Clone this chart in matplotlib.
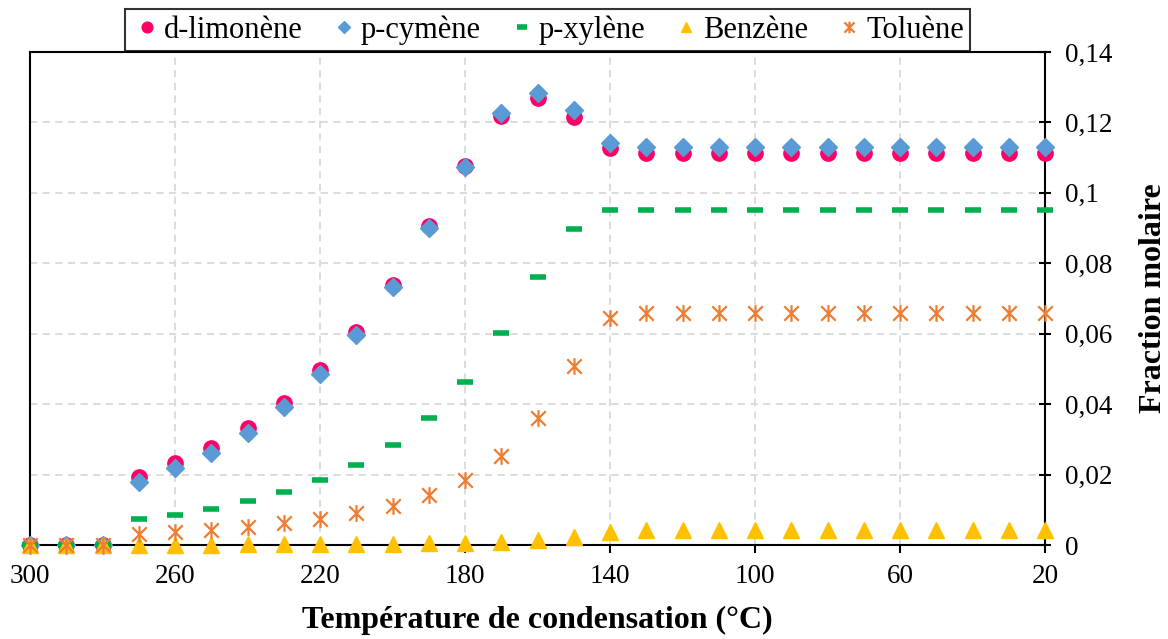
import matplotlib
matplotlib.use("Agg")
import matplotlib.pyplot as plt
from matplotlib.path import Path
from matplotlib.ticker import FuncFormatter, MultipleLocator

plt.rcParams["font.family"] = ["Liberation Serif", "DejaVu Serif"]

# températures de condensation (°C)
temp = [300, 290, 280, 270, 260, 250, 240, 230, 220, 210, 200, 190, 180, 170, 160,
        150, 140, 130, 120, 110, 100, 90, 80, 70, 60, 50, 40, 30, 20]
xticks = [300, 260, 220, 180, 140, 100, 60, 20]

limonene = [0, 0, 0, 0.0194, 0.0232, 0.0275, 0.0331, 0.0404, 0.0497, 0.0605, 0.0738,
            0.0906, 0.1076, 0.1218, 0.1269, 0.1216, 0.1127, 0.1112, 0.1112, 0.1112,
            0.1112, 0.1112, 0.1112, 0.1112, 0.1112, 0.1112, 0.1112, 0.1112, 0.1112]
cymene = [0, 0, 0, 0.0180, 0.0218, 0.0262, 0.0319, 0.0393, 0.0486, 0.0596, 0.0733,
          0.0900, 0.1074, 0.1226, 0.1283, 0.1235, 0.1143, 0.1131, 0.1131, 0.1131,
          0.1131, 0.1131, 0.1131, 0.1131, 0.1131, 0.1131, 0.1131, 0.1131, 0.1131]
xylene = [0, 0, 0, 0.0073, 0.0086, 0.0103, 0.0124, 0.0151, 0.0185, 0.0227, 0.0284,
          0.0360, 0.0462, 0.0602, 0.0762, 0.0898, 0.0950, 0.0951, 0.0951, 0.0951,
          0.0951, 0.0951, 0.0951, 0.0951, 0.0951, 0.0951, 0.0951, 0.0951, 0.0951]
benzene = [0, 0, 0, 0.0001, 0.0001, 0.0001, 0.0002, 0.0002, 0.0003, 0.0003, 0.0004,
           0.0005, 0.0006, 0.0009, 0.0013, 0.0022, 0.0038, 0.0042, 0.0042, 0.0042,
           0.0042, 0.0042, 0.0042, 0.0042, 0.0042, 0.0042, 0.0042, 0.0042, 0.0042]
toluene = [0, 0, 0, 0.0031, 0.0037, 0.0043, 0.0050, 0.0062, 0.0073, 0.0090, 0.0111,
           0.0142, 0.0185, 0.0253, 0.0361, 0.0508, 0.0644, 0.0658, 0.0658, 0.0658,
           0.0658, 0.0658, 0.0658, 0.0658, 0.0658, 0.0658, 0.0658, 0.0658, 0.0658]

# marqueur "étoile" façon Excel : X + trait vertical
star = Path([(-1, -1), (1, 1), (-1, 1), (1, -1), (0, -1.15), (0, 1.15)],
            [Path.MOVETO, Path.LINETO] * 3)

fig = plt.figure(figsize=(11.68, 6.39), dpi=100)
ax = fig.add_axes([0.0257, 0.1471, 0.8690, 0.7715])

kw = dict(ls="none", clip_on=False, zorder=3)
ax.plot(temp, limonene, marker="o", ms=11, color="#FF0066", mec="#FF0066", label="d-limonène", **kw)
ax.plot(temp, cymene, marker="D", ms=9, color="#5B9BD5", mec="#5B9BD5", label="p-cymène", **kw)
ax.plot(temp, xylene, marker="_", ms=11, mew=4, color="#00B050", label="p-xylène", **kw)
ax.plot(temp, benzene, marker="^", ms=11, color="#FFC000", mec="#FFC000", label="Benzène", **kw)
ax.plot(temp, toluene, marker=star, ms=12, mew=1.6, color="#ED7D31", label="Toluène", **kw)

ax.set_xlim(300, 20)
ax.set_ylim(0, 0.14)
ax.set_xticks(xticks)
ax.yaxis.set_major_locator(MultipleLocator(0.02))
ax.yaxis.set_major_formatter(FuncFormatter(lambda v, p: f"{round(v, 2):g}".replace(".", ",")))
ax.yaxis.tick_right()
ax.yaxis.set_label_position("right")
ax.tick_params(axis="both", labelsize=19.5, width=1.5)
ax.tick_params(axis="x", direction="out", length=6, pad=8)
ax.tick_params(axis="y", direction="inout", length=9, pad=10)

ax.grid(True, ls=(0, (4, 3)), color="#D9D9D9", lw=1.3, zorder=0)
ax.set_axisbelow(True)
for s in ax.spines.values():
    s.set_linewidth(1.5)
    s.set_color("black")

ax.set_xlabel("Température de condensation (°C)", fontsize=23, fontweight="bold", labelpad=12)
ax.set_ylabel("Fraction molaire", fontsize=23, fontweight="bold", labelpad=19)

leg = fig.legend(loc="center", bbox_to_anchor=(0.469, 0.953), ncol=5, fontsize=22,
                 frameon=True, fancybox=False, edgecolor="black", handletextpad=0.05,
                 columnspacing=0.85, borderpad=0.2, handlelength=1.0, markerscale=0.7)
leg.get_frame().set_linewidth(1.5)

fig.savefig("out.png", dpi=100)
